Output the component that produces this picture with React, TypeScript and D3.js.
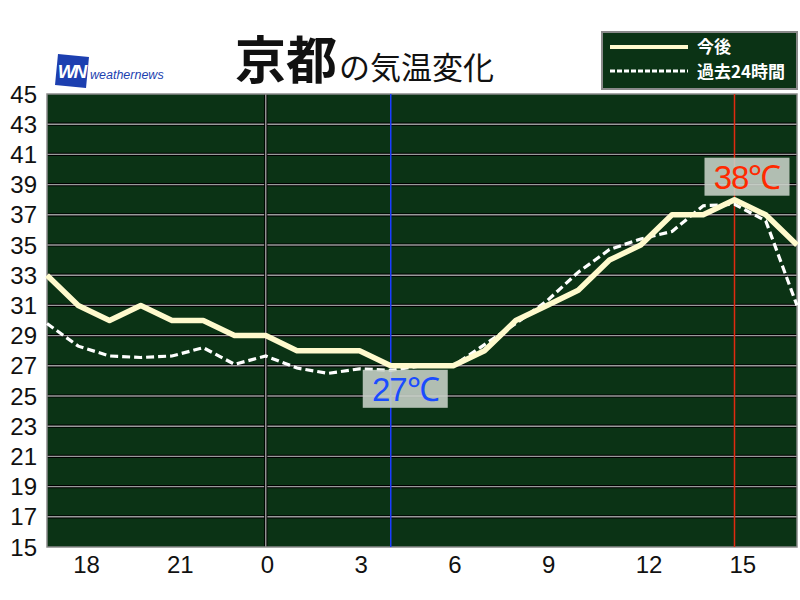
import * as d3 from "d3";

// hours after 17:00 of the previous day, one point per hour
const hourLabels = [18, 21, 0, 3, 6, 9, 12, 15];
const hourLabelOffsets = [1, 4, 7, 10, 13, 16, 19, 22];
const yTicks = [15, 17, 19, 21, 23, 25, 27, 29, 31, 33, 35, 37, 39, 41, 43, 45];

const forecast = [33, 31, 30, 31, 30, 30, 29, 29, 28, 28, 28, 27, 27, 27, 28, 30, 31, 32, 34, 35, 37, 37, 38, 37, 35];
const past24 = [
  29.8, 28.3, 27.65, 27.55, 27.65, 28.2, 27.1, 27.65, 26.85, 26.5, 26.8, 26.7, 27.0,
  27.0, 28.4, 29.8, 31.3, 33.2, 34.7, 35.4, 35.9, 37.6, 37.7, 36.6, 31.0,
];

const minLabel = { hour: 11, value: 27, text: "27℃", color: "#1a4cff", line: "#1a3cff" };
const maxLabel = { hour: 22, value: 38, text: "38℃", color: "#ff2a00", line: "#e02a10" };

const W = 800;
const H = 600;
const plot = { l: 47, r: 797, t: 94, b: 547 };
const bg = "#0b3315";
const font = "'Noto Sans CJK JP', 'Noto Sans', sans-serif";

export default function App() {
  const x = d3.scaleLinear().domain([0, 24]).range([plot.l, plot.r]);
  const y = d3.scaleLinear().domain([15, 45]).range([plot.b, plot.t]);
  const line = d3.line<number>().x((_, i) => x(i)).y((d) => y(d));

  const gridLine = (x1: number, y1: number, x2: number, y2: number, key: string) => (
    <g key={key}>
      <line x1={x1} y1={y1} x2={x2} y2={y2} stroke="#000" strokeWidth={3.2} />
      <line x1={x1} y1={y1} x2={x2} y2={y2} stroke="#9a9a9a" strokeWidth={1.4} />
    </g>
  );

  const tag = (l: typeof minLabel, bx: number, by: number) => (
    <g>
      <rect x={bx} y={by} width={85} height={38} fill="#c8d2c8" fillOpacity={0.88} />
      <text
        x={bx + 42.5}
        y={by + 31}
        textAnchor="middle"
        fontSize={33}
        fill={l.color}
        fontFamily="'Liberation Sans', sans-serif"
        letterSpacing={-1}
      >
        {l.text}
      </text>
    </g>
  );

  return (
    <div style={{ position: "absolute", left: 0, top: 0 }}>
      <svg width={W} height={H} viewBox={`0 0 ${W} ${H}`} style={{ display: "block", background: "#fff" }}>
        {/* logo */}
        <g transform="translate(55,54)">
          <path d="M3,0 L34,3 L31,34 L0,31 Z" fill="#1c3fb0" />
          <text x={16.5} y={24} textAnchor="middle" fontSize={19} fontWeight={700} fontStyle="italic"
            fill="#fff" fontFamily="'Liberation Sans', sans-serif" letterSpacing={-2}>
            WN
          </text>
        </g>
        <text x={90} y={79} fontSize={12.5} fontStyle="italic" fill="#1c3fb0"
          fontFamily="'Liberation Sans', sans-serif">
          weathernews
        </text>

        {/* title */}
        <text x={235} y={79} fontFamily={font} fill="#111">
          <tspan fontSize={51} fontWeight={700}>京都</tspan>
          <tspan fontSize={31} dx={2}>の気温変化</tspan>
        </text>

        {/* legend */}
        <rect x={602} y={32} width={195} height={57} fill={bg} stroke="#8a8a8a" strokeWidth={2} />
        <line x1={610} y1={47} x2={688} y2={47} stroke="#fffacd" strokeWidth={4} />
        <line x1={610} y1={71} x2={688} y2={71} stroke="#fff" strokeWidth={3} strokeDasharray="5,2" />
        <text x={697} y={53} fontSize={17} fontWeight={700} fill="#fff" fontFamily={font}>今後</text>
        <text x={697} y={78} fontSize={17} fontWeight={700} fill="#fff" fontFamily={font}>過去24時間</text>

        {/* plot */}
        <rect x={plot.l} y={plot.t} width={plot.r - plot.l} height={plot.b - plot.t} fill={bg} />
        {yTicks.slice(1, -1).map((t) => gridLine(plot.l, y(t), plot.r, y(t), `h${t}`))}
        {gridLine(x(7), plot.t, x(7), plot.b, "v0")}
        <rect x={plot.l} y={plot.t} width={plot.r - plot.l} height={plot.b - plot.t}
          fill="none" stroke="#8a8a8a" strokeWidth={1.5} />

        <line x1={x(minLabel.hour)} y1={plot.t} x2={x(minLabel.hour)} y2={plot.b} stroke={minLabel.line} strokeWidth={1.5} />
        <line x1={x(maxLabel.hour)} y1={plot.t} x2={x(maxLabel.hour)} y2={plot.b} stroke={maxLabel.line} strokeWidth={1.5} />

        <path d={line(past24) ?? ""} fill="none" stroke="#fff" strokeWidth={3.2} strokeDasharray="8,4" />
        <path d={line(forecast) ?? ""} fill="none" stroke="#fffacd" strokeWidth={5.5} strokeLinejoin="round" />

        {tag(minLabel, x(minLabel.hour) - 28, y(minLabel.value) + 4)}
        {tag(maxLabel, x(maxLabel.hour) - 30, y(maxLabel.value) - 42)}

        {/* axes */}
        {yTicks.map((t) => (
          <text key={t} x={37} y={y(t) + 8.5} textAnchor="end" fontSize={24} fill="#111"
            fontFamily="'Liberation Sans', sans-serif">
            {t}
          </text>
        ))}
        {hourLabels.map((h, i) => (
          <text key={h} x={x(hourLabelOffsets[i]) - 5} y={573} textAnchor="start" fontSize={24} fill="#111"
            fontFamily="'Liberation Sans', sans-serif">
            {h}
          </text>
        ))}
      </svg>
    </div>
  );
}
